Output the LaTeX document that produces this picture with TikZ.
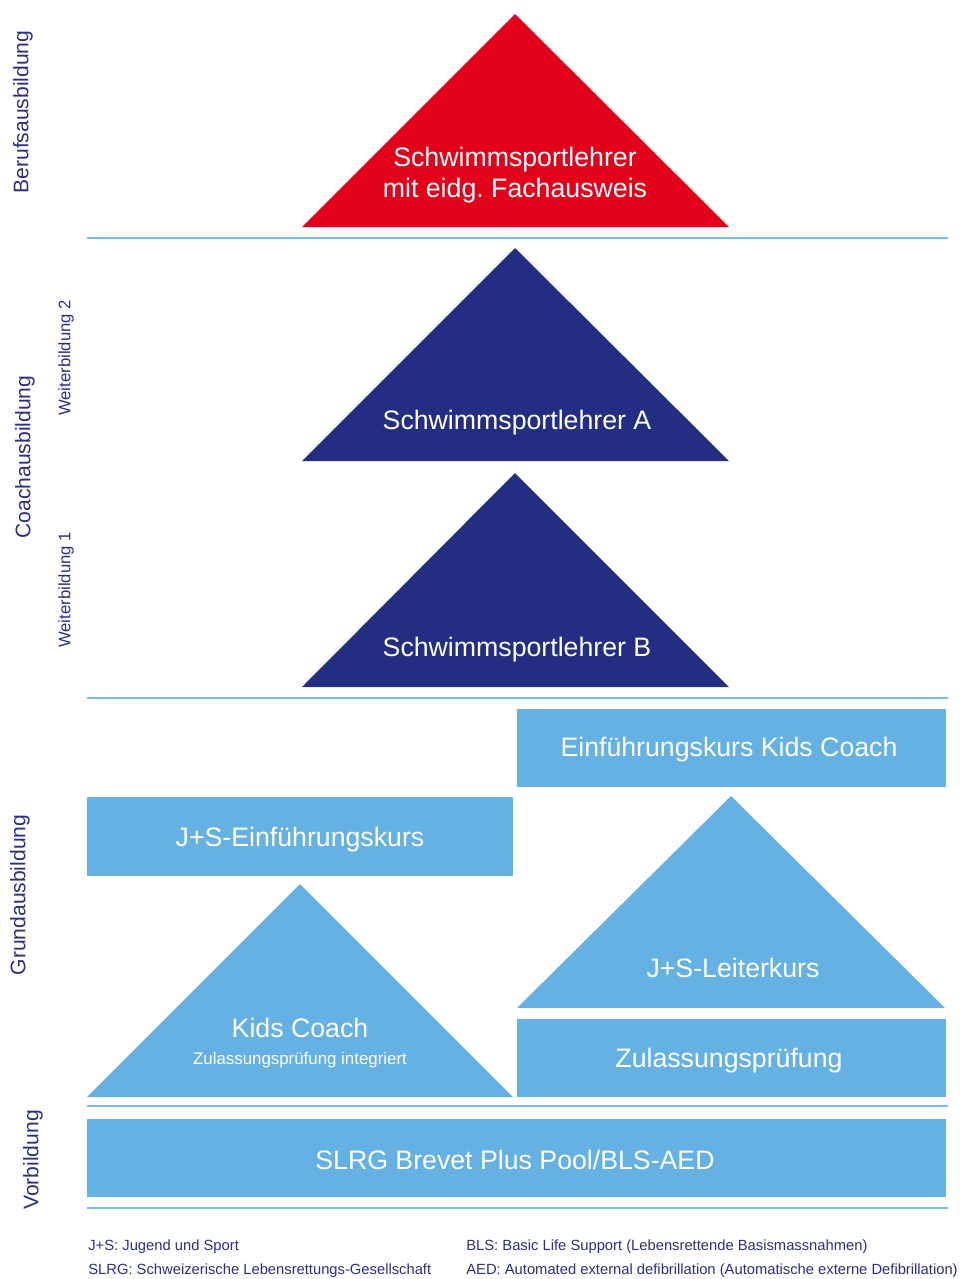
\documentclass[tikz,border=0pt]{standalone}
\usepackage{fontspec}
\setmainfont{Liberation Sans}
\usetikzlibrary{positioning}

\definecolor{slrgred}{HTML}{E2001A}
\definecolor{slrgnavy}{HTML}{232E82}
\definecolor{slrglight}{HTML}{65B1E3}
\definecolor{slrgline}{HTML}{7ABCE8}
\definecolor{slrgtext}{HTML}{2B2F80}

\begin{document}
\begin{tikzpicture}[
    x=0.02cm, y=-0.02cm,
    tri/.style={fill=#1, draw=none},
    box/.style={fill=slrglight, draw=none},
    sep/.style={draw=slrgline, line width=0.6pt},
    title/.style={text=white, font=\fontsize{15.2}{18}\selectfont, align=center, inner sep=0pt},
    small/.style={text=white, font=\fontsize{9.6}{11}\selectfont, inner sep=0pt},
    phase/.style={text=slrgtext, font=\fontsize{12}{14}\selectfont, rotate=90, inner sep=0pt},
    sub/.style={text=slrgtext, font=\fontsize{9.5}{11}\selectfont, rotate=90, inner sep=0pt},
    note/.style={text=slrgtext, font=\fontsize{8.4}{10}\selectfont, anchor=west, inner sep=0pt}
]
\useasboundingbox (0,0) rectangle (961,1279);

% Berufsausbildung
\fill[tri=slrgred] (515,14) -- (729,227) -- (302,227) -- cycle;
\node[title] (fach) at (515,175) {Schwimmsportlehrer\\mit eidg.\ Fachausweis};

% Coachausbildung
\fill[tri=slrgnavy] (515,248) -- (729,461) -- (302,461) -- cycle;
\node[title] (lehrerA) at (517,423) {Schwimmsportlehrer A};
\fill[tri=slrgnavy] (515,473) -- (729,687) -- (302,687) -- cycle;
\node[title] (lehrerB) at (517,650) {Schwimmsportlehrer B};

% Grundausbildung
\fill[box] (517,709) rectangle (946,787);
\node[title] (kidsintro) at (729,750) {Einführungskurs Kids Coach};
\fill[box] (87,797) rectangle (513,876);
\node[title] (jsintro) at (300,840) {J+S-Einführungskurs};
\fill[tri=slrglight] (300,884) -- (513,1097) -- (87,1097) -- cycle;
\node[title] (kids) at (300,1028) {Kids Coach};
\node[small, below=8pt of kids] (kidssub) {Zulassungsprüfung integriert};
\fill[tri=slrglight] (731,796) -- (945,1008) -- (517,1008) -- cycle;
\node[title] (leiter) at (733,968) {J+S-Leiterkurs};
\fill[box] (517,1019) rectangle (946,1097);
\node[title] (zulass) at (729,1061) {Zulassungsprüfung};

% Vorbildung
\fill[box] (87,1119) rectangle (946,1197);
\node[title] (brevet) at (515,1160) {SLRG Brevet Plus Pool/BLS-AED};

% Trennlinien
\foreach \y in {238, 698, 1106, 1208}
    \draw[sep] (87,\y) -- (948,\y);

% Stufen
\node[phase] (beruf) at (23,112) {Berufsausbildung};
\node[phase] (coach) at (25,457) {Coachausbildung};
\node[sub] (wb2) at (66,358) {Weiterbildung 2};
\node[sub] (wb1) at (66,590) {Weiterbildung 1};
\node[phase] (grund) at (20,895) {Grundausbildung};
\node[phase] (vor) at (33,1160) {Vorbildung};

% Abkürzungen
\node[note] (js) at (88,1247) {J+S: Jugend und Sport};
\node[note] (slrg) at (88,1271) {SLRG: Schweizerische Lebensrettungs-Gesellschaft};
\node[note] (bls) at (466,1247) {BLS: Basic Life Support (Lebensrettende Basismassnahmen)};
\node[note] (aed) at (466,1271) {AED: Automated external defibrillation (Automatische externe Defibrillation)};

\end{tikzpicture}
\end{document}
